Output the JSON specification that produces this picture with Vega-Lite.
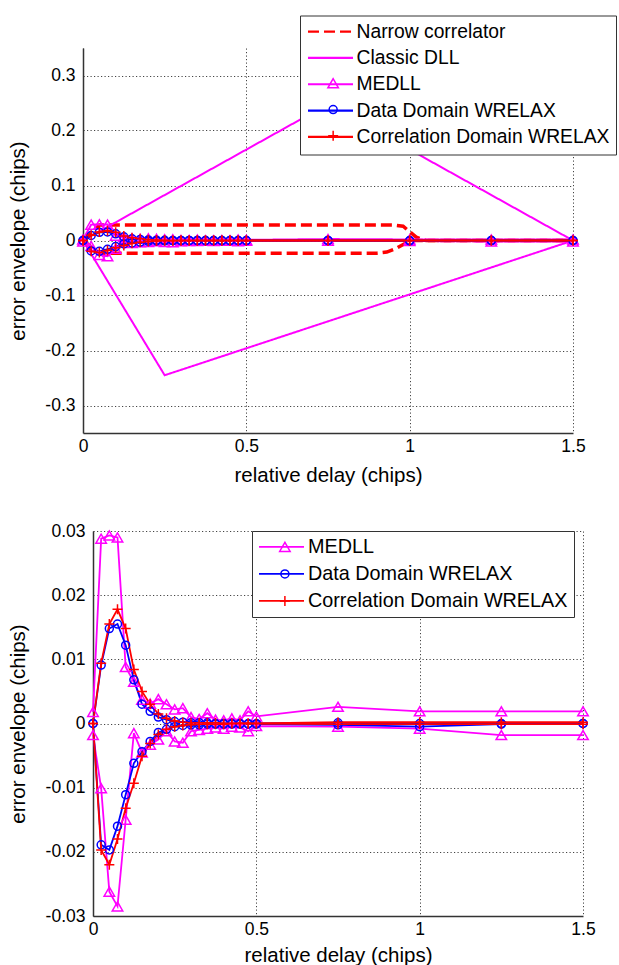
{
  "$schema": "https://vega.github.io/schema/vega-lite/v6.json",
  "background": "white",
  "padding": {"left": 8, "top": 15, "right": 0, "bottom": 0},
  "config": {
    "font": "Liberation Sans",
    "view": {"stroke": null},
    "axis": {
      "labelFont": "Liberation Sans", "titleFont": "Liberation Sans",
      "labelFontSize": 17.5, "titleFontSize": 20.5, "titleFontWeight": "normal",
      "labelColor": "#000", "titleColor": "#000",
      "domainColor": "#333", "domainWidth": 1.5,
      "grid": true, "gridColor": "#444", "gridDash": [1.2, 2.3], "gridWidth": 1, "gridOpacity": 1,
      "ticks": false, "labelPadding": 4
    },
    "axisX": {"labelFlush": false, "labelOverlap": false},
    "axisY": {"labelPadding": 8, "titlePadding": 16.5, "labelOverlap": false},
    "legend": {"labelFont": "Liberation Sans", "labelColor": "#000", "labelLimit": 400}
  },
  "datasets": {
    "rows": [
      {"series":"Narrow correlator","branch":"u","x":0,"y":0},
      {"series":"Narrow correlator","branch":"u","x":0.05,"y":0.028},
      {"series":"Narrow correlator","branch":"u","x":0.95,"y":0.028},
      {"series":"Narrow correlator","branch":"u","x":0.98,"y":0.026},
      {"series":"Narrow correlator","branch":"u","x":1.0,"y":0.016},
      {"series":"Narrow correlator","branch":"u","x":1.02,"y":0.006},
      {"series":"Narrow correlator","branch":"u","x":1.05,"y":0},
      {"series":"Narrow correlator","branch":"u","x":1.5,"y":0},
      {"series":"Narrow correlator","branch":"l","x":0,"y":0},
      {"series":"Narrow correlator","branch":"l","x":0.05,"y":-0.023},
      {"series":"Narrow correlator","branch":"l","x":0.9,"y":-0.023},
      {"series":"Narrow correlator","branch":"l","x":0.93,"y":-0.021},
      {"series":"Narrow correlator","branch":"l","x":0.96,"y":-0.014},
      {"series":"Narrow correlator","branch":"l","x":0.99,"y":-0.004},
      {"series":"Narrow correlator","branch":"l","x":1.0,"y":0},
      {"series":"Narrow correlator","branch":"l","x":1.5,"y":0},
      {"series":"Classic DLL","branch":"u","x":0,"y":0},
      {"series":"Classic DLL","branch":"u","x":0.75,"y":0.248},
      {"series":"Classic DLL","branch":"u","x":1.5,"y":0},
      {"series":"Classic DLL","branch":"l","x":0,"y":0},
      {"series":"Classic DLL","branch":"l","x":0.25,"y":-0.245},
      {"series":"Classic DLL","branch":"l","x":1.5,"y":0},

      {"series":"MEDLL","branch":"u","x":0,"y":0.0018},
      {"series":"MEDLL","branch":"u","x":0.025,"y":0.0288},
      {"series":"MEDLL","branch":"u","x":0.05,"y":0.0293},
      {"series":"MEDLL","branch":"u","x":0.075,"y":0.029},
      {"series":"MEDLL","branch":"u","x":0.1,"y":0.0088},
      {"series":"MEDLL","branch":"u","x":0.125,"y":0.0065},
      {"series":"MEDLL","branch":"u","x":0.15,"y":0.0037},
      {"series":"MEDLL","branch":"u","x":0.175,"y":0.0031},
      {"series":"MEDLL","branch":"u","x":0.2,"y":0.0038},
      {"series":"MEDLL","branch":"u","x":0.225,"y":0.003},
      {"series":"MEDLL","branch":"u","x":0.25,"y":0.0022},
      {"series":"MEDLL","branch":"u","x":0.275,"y":0.0024},
      {"series":"MEDLL","branch":"u","x":0.3,"y":0.001},
      {"series":"MEDLL","branch":"u","x":0.325,"y":0.0007},
      {"series":"MEDLL","branch":"u","x":0.35,"y":0.0016},
      {"series":"MEDLL","branch":"u","x":0.375,"y":0.0006},
      {"series":"MEDLL","branch":"u","x":0.4,"y":0.0005},
      {"series":"MEDLL","branch":"u","x":0.425,"y":0.0008},
      {"series":"MEDLL","branch":"u","x":0.45,"y":0.0005},
      {"series":"MEDLL","branch":"u","x":0.475,"y":0.0019},
      {"series":"MEDLL","branch":"u","x":0.5,"y":0.0011},
      {"series":"MEDLL","branch":"u","x":0.75,"y":0.0026},
      {"series":"MEDLL","branch":"u","x":1,"y":0.0019},
      {"series":"MEDLL","branch":"u","x":1.25,"y":0.0019},
      {"series":"MEDLL","branch":"u","x":1.5,"y":0.0019},
      {"series":"MEDLL","branch":"l","x":0,"y":-0.0018},
      {"series":"MEDLL","branch":"l","x":0.025,"y":-0.0101},
      {"series":"MEDLL","branch":"l","x":0.05,"y":-0.0262},
      {"series":"MEDLL","branch":"l","x":0.075,"y":-0.0285},
      {"series":"MEDLL","branch":"l","x":0.1,"y":-0.015},
      {"series":"MEDLL","branch":"l","x":0.125,"y":-0.0015},
      {"series":"MEDLL","branch":"l","x":0.15,"y":-0.0045},
      {"series":"MEDLL","branch":"l","x":0.175,"y":-0.0033},
      {"series":"MEDLL","branch":"l","x":0.2,"y":-0.0025},
      {"series":"MEDLL","branch":"l","x":0.225,"y":-0.0012},
      {"series":"MEDLL","branch":"l","x":0.25,"y":-0.0028},
      {"series":"MEDLL","branch":"l","x":0.275,"y":-0.003},
      {"series":"MEDLL","branch":"l","x":0.3,"y":-0.0012},
      {"series":"MEDLL","branch":"l","x":0.325,"y":-0.001},
      {"series":"MEDLL","branch":"l","x":0.35,"y":-0.0008},
      {"series":"MEDLL","branch":"l","x":0.375,"y":-0.0006},
      {"series":"MEDLL","branch":"l","x":0.4,"y":-0.0008},
      {"series":"MEDLL","branch":"l","x":0.425,"y":-0.0005},
      {"series":"MEDLL","branch":"l","x":0.45,"y":-0.0006},
      {"series":"MEDLL","branch":"l","x":0.475,"y":-0.0012},
      {"series":"MEDLL","branch":"l","x":0.5,"y":-0.0004},
      {"series":"MEDLL","branch":"l","x":0.75,"y":-0.0005},
      {"series":"MEDLL","branch":"l","x":1,"y":-0.0008},
      {"series":"MEDLL","branch":"l","x":1.25,"y":-0.0018},
      {"series":"MEDLL","branch":"l","x":1.5,"y":-0.0018},

      {"series":"Data Domain WRELAX","branch":"u","x":0,"y":0},
      {"series":"Data Domain WRELAX","branch":"u","x":0.025,"y":0.0091},
      {"series":"Data Domain WRELAX","branch":"u","x":0.05,"y":0.0148},
      {"series":"Data Domain WRELAX","branch":"u","x":0.075,"y":0.0155},
      {"series":"Data Domain WRELAX","branch":"u","x":0.1,"y":0.0122},
      {"series":"Data Domain WRELAX","branch":"u","x":0.125,"y":0.0068},
      {"series":"Data Domain WRELAX","branch":"u","x":0.15,"y":0.003},
      {"series":"Data Domain WRELAX","branch":"u","x":0.175,"y":0.0019},
      {"series":"Data Domain WRELAX","branch":"u","x":0.2,"y":0.001},
      {"series":"Data Domain WRELAX","branch":"u","x":0.225,"y":0.0006},
      {"series":"Data Domain WRELAX","branch":"u","x":0.25,"y":0.0003},
      {"series":"Data Domain WRELAX","branch":"u","x":0.275,"y":0.0002},
      {"series":"Data Domain WRELAX","branch":"u","x":0.3,"y":0.0001},
      {"series":"Data Domain WRELAX","branch":"u","x":0.325,"y":0.0001},
      {"series":"Data Domain WRELAX","branch":"u","x":0.35,"y":0.0001},
      {"series":"Data Domain WRELAX","branch":"u","x":0.375,"y":0},
      {"series":"Data Domain WRELAX","branch":"u","x":0.4,"y":0},
      {"series":"Data Domain WRELAX","branch":"u","x":0.425,"y":0},
      {"series":"Data Domain WRELAX","branch":"u","x":0.45,"y":0},
      {"series":"Data Domain WRELAX","branch":"u","x":0.475,"y":0},
      {"series":"Data Domain WRELAX","branch":"u","x":0.5,"y":0},
      {"series":"Data Domain WRELAX","branch":"u","x":0.75,"y":0.0001},
      {"series":"Data Domain WRELAX","branch":"u","x":1,"y":0},
      {"series":"Data Domain WRELAX","branch":"u","x":1.25,"y":0},
      {"series":"Data Domain WRELAX","branch":"u","x":1.5,"y":0},
      {"series":"Data Domain WRELAX","branch":"l","x":0,"y":0},
      {"series":"Data Domain WRELAX","branch":"l","x":0.025,"y":-0.0189},
      {"series":"Data Domain WRELAX","branch":"l","x":0.05,"y":-0.0197},
      {"series":"Data Domain WRELAX","branch":"l","x":0.075,"y":-0.016},
      {"series":"Data Domain WRELAX","branch":"l","x":0.1,"y":-0.0111},
      {"series":"Data Domain WRELAX","branch":"l","x":0.125,"y":-0.0062},
      {"series":"Data Domain WRELAX","branch":"l","x":0.15,"y":-0.0044},
      {"series":"Data Domain WRELAX","branch":"l","x":0.175,"y":-0.0028},
      {"series":"Data Domain WRELAX","branch":"l","x":0.2,"y":-0.0014},
      {"series":"Data Domain WRELAX","branch":"l","x":0.225,"y":-0.0009},
      {"series":"Data Domain WRELAX","branch":"l","x":0.25,"y":-0.0005},
      {"series":"Data Domain WRELAX","branch":"l","x":0.275,"y":-0.0003},
      {"series":"Data Domain WRELAX","branch":"l","x":0.3,"y":-0.0002},
      {"series":"Data Domain WRELAX","branch":"l","x":0.325,"y":-0.0002},
      {"series":"Data Domain WRELAX","branch":"l","x":0.35,"y":-0.0001},
      {"series":"Data Domain WRELAX","branch":"l","x":0.375,"y":-0.0001},
      {"series":"Data Domain WRELAX","branch":"l","x":0.4,"y":-0.0001},
      {"series":"Data Domain WRELAX","branch":"l","x":0.425,"y":-0.0001},
      {"series":"Data Domain WRELAX","branch":"l","x":0.45,"y":-0.0001},
      {"series":"Data Domain WRELAX","branch":"l","x":0.475,"y":-0.0001},
      {"series":"Data Domain WRELAX","branch":"l","x":0.5,"y":-0.0001},
      {"series":"Data Domain WRELAX","branch":"l","x":0.75,"y":-0.0002},
      {"series":"Data Domain WRELAX","branch":"l","x":1,"y":-0.0005},
      {"series":"Data Domain WRELAX","branch":"l","x":1.25,"y":-0.0001},
      {"series":"Data Domain WRELAX","branch":"l","x":1.5,"y":0},

      {"series":"Correlation Domain WRELAX","branch":"u","x":0,"y":0},
      {"series":"Correlation Domain WRELAX","branch":"u","x":0.025,"y":0.0094},
      {"series":"Correlation Domain WRELAX","branch":"u","x":0.05,"y":0.0155},
      {"series":"Correlation Domain WRELAX","branch":"u","x":0.075,"y":0.0178},
      {"series":"Correlation Domain WRELAX","branch":"u","x":0.1,"y":0.0148},
      {"series":"Correlation Domain WRELAX","branch":"u","x":0.125,"y":0.0084},
      {"series":"Correlation Domain WRELAX","branch":"u","x":0.15,"y":0.005},
      {"series":"Correlation Domain WRELAX","branch":"u","x":0.175,"y":0.003},
      {"series":"Correlation Domain WRELAX","branch":"u","x":0.2,"y":0.0015},
      {"series":"Correlation Domain WRELAX","branch":"u","x":0.225,"y":0.0008},
      {"series":"Correlation Domain WRELAX","branch":"u","x":0.25,"y":0.0004},
      {"series":"Correlation Domain WRELAX","branch":"u","x":0.275,"y":0.0002},
      {"series":"Correlation Domain WRELAX","branch":"u","x":0.3,"y":0.0001},
      {"series":"Correlation Domain WRELAX","branch":"u","x":0.325,"y":0.0001},
      {"series":"Correlation Domain WRELAX","branch":"u","x":0.35,"y":0.0001},
      {"series":"Correlation Domain WRELAX","branch":"u","x":0.375,"y":0.0001},
      {"series":"Correlation Domain WRELAX","branch":"u","x":0.4,"y":0},
      {"series":"Correlation Domain WRELAX","branch":"u","x":0.425,"y":0},
      {"series":"Correlation Domain WRELAX","branch":"u","x":0.45,"y":0},
      {"series":"Correlation Domain WRELAX","branch":"u","x":0.475,"y":0},
      {"series":"Correlation Domain WRELAX","branch":"u","x":0.5,"y":0},
      {"series":"Correlation Domain WRELAX","branch":"u","x":0.75,"y":0.0002},
      {"series":"Correlation Domain WRELAX","branch":"u","x":1,"y":0.0002},
      {"series":"Correlation Domain WRELAX","branch":"u","x":1.25,"y":0.0002},
      {"series":"Correlation Domain WRELAX","branch":"u","x":1.5,"y":0.0002},
      {"series":"Correlation Domain WRELAX","branch":"l","x":0,"y":0},
      {"series":"Correlation Domain WRELAX","branch":"l","x":0.025,"y":-0.0197},
      {"series":"Correlation Domain WRELAX","branch":"l","x":0.05,"y":-0.022},
      {"series":"Correlation Domain WRELAX","branch":"l","x":0.075,"y":-0.018},
      {"series":"Correlation Domain WRELAX","branch":"l","x":0.1,"y":-0.0132},
      {"series":"Correlation Domain WRELAX","branch":"l","x":0.125,"y":-0.0093},
      {"series":"Correlation Domain WRELAX","branch":"l","x":0.15,"y":-0.0051},
      {"series":"Correlation Domain WRELAX","branch":"l","x":0.175,"y":-0.0031},
      {"series":"Correlation Domain WRELAX","branch":"l","x":0.2,"y":-0.0017},
      {"series":"Correlation Domain WRELAX","branch":"l","x":0.225,"y":-0.0009},
      {"series":"Correlation Domain WRELAX","branch":"l","x":0.25,"y":-0.0005},
      {"series":"Correlation Domain WRELAX","branch":"l","x":0.275,"y":-0.0003},
      {"series":"Correlation Domain WRELAX","branch":"l","x":0.3,"y":-0.0002},
      {"series":"Correlation Domain WRELAX","branch":"l","x":0.325,"y":-0.0001},
      {"series":"Correlation Domain WRELAX","branch":"l","x":0.35,"y":-0.0001},
      {"series":"Correlation Domain WRELAX","branch":"l","x":0.375,"y":-0.0001},
      {"series":"Correlation Domain WRELAX","branch":"l","x":0.4,"y":-0.0001},
      {"series":"Correlation Domain WRELAX","branch":"l","x":0.425,"y":0},
      {"series":"Correlation Domain WRELAX","branch":"l","x":0.45,"y":0},
      {"series":"Correlation Domain WRELAX","branch":"l","x":0.475,"y":0},
      {"series":"Correlation Domain WRELAX","branch":"l","x":0.5,"y":0},
      {"series":"Correlation Domain WRELAX","branch":"l","x":0.75,"y":-0.0001},
      {"series":"Correlation Domain WRELAX","branch":"l","x":1,"y":-0.0001},
      {"series":"Correlation Domain WRELAX","branch":"l","x":1.25,"y":-0.0001},
      {"series":"Correlation Domain WRELAX","branch":"l","x":1.5,"y":-0.0001}
    ]
  },
  "concat": [
    {
      "width": 480,
      "height": 385,
      "data": {"name": "rows"},
      "encoding": {
        "x": {"field": "x", "type": "quantitative", "scale": {"domain": [0, 1.5], "nice": false, "range": [-10, 480]},
              "axis": {"values": [0, 0.5, 1, 1.5], "format": "~g", "title": "relative delay (chips)", "titlePadding": 11}},
        "y": {"field": "y", "type": "quantitative", "scale": {"domain": [-0.35, 0.35], "nice": false},
              "axis": {"values": [-0.3, -0.2, -0.1, 0, 0.1, 0.2, 0.3], "format": "~g", "offset": 10, "labelExpr": "replace(datum.label, '\u2212', '-')", "title": "error envelope (chips)"}}
      },
      "layer": [
        {
          "transform": [{"filter": "datum.series == 'Narrow correlator'"}],
          "mark": {"type": "line", "strokeWidth": 3.5},
          "encoding": {
            "color": {"field": "series", "type": "nominal",
              "scale": {"domain": ["Narrow correlator", "Classic DLL", "MEDLL", "Data Domain WRELAX", "Correlation Domain WRELAX"],
                        "range": ["#ff0000", "#ff00ff", "#ff00ff", "#0000ff", "#ff0000"]},
              "legend": {"orient": "none", "legendX": 207, "legendY": -32.5, "direction": "vertical", "title": null,
                         "symbolType": "stroke", "symbolSize": 2025, "labelFontSize": 19.3, "labelOffset": 2, "clipHeight": 19.3,
                         "padding": 6.5, "rowPadding": 6.3, "strokeColor": "#333", "fillColor": "#fff", "symbolStrokeWidth": 2.2}},
            "strokeDash": {"field": "series", "type": "nominal",
              "scale": {"domain": ["Narrow correlator", "Classic DLL", "MEDLL", "Data Domain WRELAX", "Correlation Domain WRELAX"],
                        "range": [[11, 5], [1, 0], [1, 0], [1, 0], [1, 0]]}},
            "detail": {"field": "branch", "type": "nominal"}
          }
        },
        {
          "transform": [{"filter": "datum.series != 'Narrow correlator'"}],
          "mark": {"type": "line", "strokeWidth": 2},
          "encoding": {
            "color": {"field": "series", "type": "nominal",
              "scale": {"domain": ["Narrow correlator", "Classic DLL", "MEDLL", "Data Domain WRELAX", "Correlation Domain WRELAX"],
                        "range": ["#ff0000", "#ff00ff", "#ff00ff", "#0000ff", "#ff0000"]}},
            "strokeDash": {"field": "series", "type": "nominal",
              "scale": {"domain": ["Narrow correlator", "Classic DLL", "MEDLL", "Data Domain WRELAX", "Correlation Domain WRELAX"],
                        "range": [[11, 5], [1, 0], [1, 0], [1, 0], [1, 0]]}},
            "detail": {"field": "branch", "type": "nominal"}
          }
        },
        {
          "transform": [
            {"filter": {"field": "series", "oneOf": ["MEDLL", "Data Domain WRELAX", "Correlation Domain WRELAX"]}},
            {"calculate": "datum.series + ' marker'", "as": "mk"}
          ],
          "mark": {"type": "point", "filled": false, "strokeWidth": 1.5, "opacity": 1},
          "encoding": {
            "stroke": {"field": "mk", "type": "nominal",
              "scale": {"domain": ["MEDLL marker", "Data Domain WRELAX marker", "Correlation Domain WRELAX marker"], "range": ["#ff00ff", "#0000ff", "#ff0000"]},
              "legend": {"orient": "none", "legendX": 207, "legendY": 19.1, "direction": "vertical", "title": null,
                         "labelFontSize": 19.3, "labelExpr": "''", "labelOffset": 0, "clipHeight": 19.3, "padding": 6.5, "rowPadding": 6.3,
                         "symbolOffset": 17, "symbolStrokeWidth": 1.5}},
            "shape": {"field": "mk", "type": "nominal",
              "scale": {"domain": ["MEDLL marker", "Data Domain WRELAX marker", "Correlation Domain WRELAX marker"], "range": ["triangle-up", "circle", "M-1,0L1,0M0,-1L0,1"]}},
            "size": {"field": "mk", "type": "nominal",
              "scale": {"type": "ordinal", "domain": ["MEDLL marker", "Data Domain WRELAX marker", "Correlation Domain WRELAX marker"], "range": [110, 64, 100]}}
          }
        }
      ]
    },
    {
      "width": 490,
      "height": 385,
      "data": {"name": "rows"},
      "transform": [
        {"filter": {"field": "series", "oneOf": ["MEDLL", "Data Domain WRELAX", "Correlation Domain WRELAX"]}}
      ],
      "encoding": {
        "x": {"field": "x", "type": "quantitative", "scale": {"domain": [0, 1.5], "nice": false},
              "axis": {"values": [0, 0.5, 1, 1.5], "format": "~g", "title": "relative delay (chips)", "titlePadding": 8}},
        "y": {"field": "y", "type": "quantitative", "scale": {"domain": [-0.03, 0.03], "nice": false},
              "axis": {"values": [-0.03, -0.02, -0.01, 0, 0.01, 0.02, 0.03], "format": "~g", "labelExpr": "replace(datum.label, '\u2212', '-')", "title": "error envelope (chips)"}}
      },
      "layer": [
        {
          "mark": {"type": "line", "strokeWidth": 1.8},
          "encoding": {
            "color": {"field": "series", "type": "nominal",
              "scale": {"domain": ["MEDLL", "Data Domain WRELAX", "Correlation Domain WRELAX"], "range": ["#ff00ff", "#0000ff", "#ff0000"]},
              "legend": {"orient": "none", "legendX": 159, "legendY": 0, "direction": "vertical", "title": null,
                         "symbolType": "stroke", "symbolSize": 2025, "labelFontSize": 19.8, "labelOffset": 3, "clipHeight": 19.8,
                         "padding": 6, "rowPadding": 6, "strokeColor": "#333", "fillColor": "#fff", "symbolStrokeWidth": 1.8}},
            "detail": {"field": "branch", "type": "nominal"}
          }
        },
        {
          "transform": [{"calculate": "datum.series + ' marker'", "as": "mk"}],
          "mark": {"type": "point", "filled": false, "strokeWidth": 1.5, "opacity": 1},
          "encoding": {
            "stroke": {"field": "mk", "type": "nominal",
              "scale": {"domain": ["MEDLL marker", "Data Domain WRELAX marker", "Correlation Domain WRELAX marker"], "range": ["#ff00ff", "#0000ff", "#ff0000"]},
              "legend": {"orient": "none", "legendX": 159, "legendY": 0, "direction": "vertical", "title": null,
                         "labelFontSize": 19.8, "labelExpr": "''", "labelOffset": 0, "clipHeight": 19.8, "padding": 6, "rowPadding": 6,
                         "symbolOffset": 17, "symbolStrokeWidth": 1.5}},
            "shape": {"field": "mk", "type": "nominal",
              "scale": {"domain": ["MEDLL marker", "Data Domain WRELAX marker", "Correlation Domain WRELAX marker"], "range": ["triangle-up", "circle", "M-1,0L1,0M0,-1L0,1"]}},
            "size": {"field": "mk", "type": "nominal",
              "scale": {"type": "ordinal", "domain": ["MEDLL marker", "Data Domain WRELAX marker", "Correlation Domain WRELAX marker"], "range": [110, 64, 100]}}
          }
        }
      ]
    }
  ],
  "columns": 1,
  "spacing": 36,
  "resolve": {
    "scale": {"x": "independent", "y": "independent", "color": "independent", "stroke": "independent", "shape": "independent", "size": "independent", "strokeDash": "independent"},
    "legend": {"color": "independent", "stroke": "independent", "shape": "independent", "size": "independent", "strokeDash": "independent"}
  }
}
